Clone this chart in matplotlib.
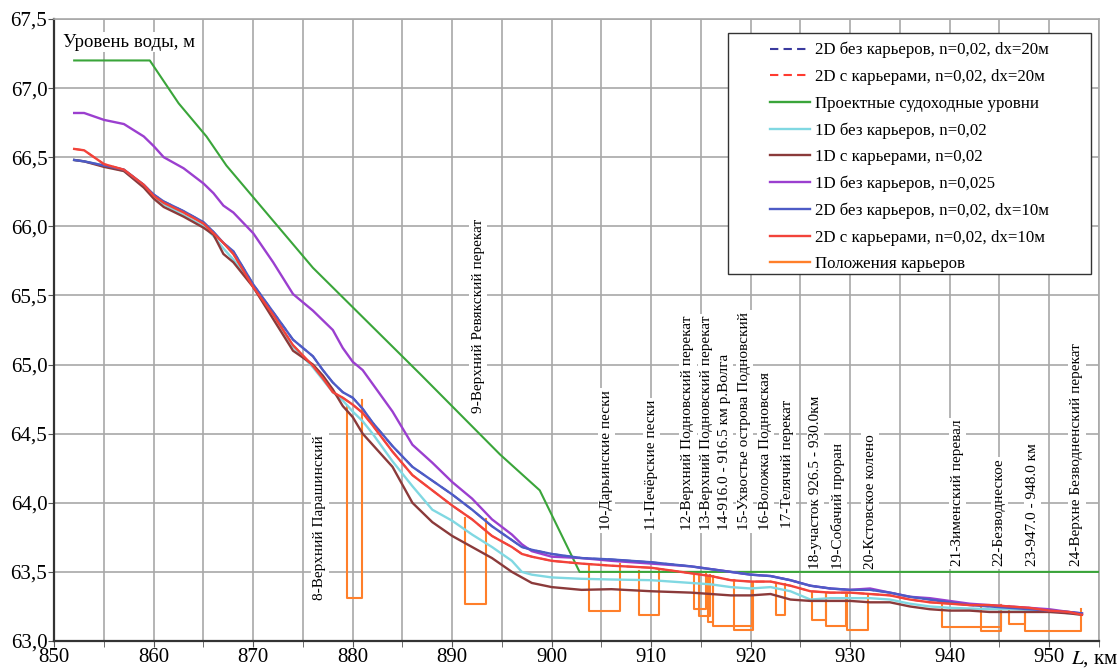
import matplotlib
matplotlib.use("Agg")
import matplotlib.pyplot as plt
from matplotlib.lines import Line2D
from matplotlib.patches import Rectangle

plt.rcParams["font.family"] = ["Liberation Serif", "DejaVu Serif"]
plt.rcParams["mathtext.fontset"] = "stix"

# километры для расчётных кривых
km = [852, 853, 855, 857, 859, 860, 861, 863, 865, 866, 867, 868, 870, 872, 874, 876,
      877, 878, 879, 880, 881, 882, 884, 886, 888, 890, 892, 894, 896, 897, 898, 900,
      903, 906, 910, 914, 916, 918, 920, 922, 924, 926, 928, 930, 932, 934, 936, 938,
      940, 942, 944, 946, 948, 950, 952, 953.3]

h_1d_025 = [66.82, 66.82, 66.77, 66.74, 66.65, 66.58, 66.50, 66.42, 66.31, 66.24, 66.15, 66.10,
            65.95, 65.74, 65.51, 65.39, 65.32, 65.25, 65.12, 65.02, 64.96, 64.86, 64.66, 64.42,
            64.29, 64.15, 64.03, 63.88, 63.77, 63.70, 63.65, 63.61, 63.60, 63.58, 63.56, 63.54,
            63.52, 63.50, 63.48, 63.47, 63.44, 63.40, 63.38, 63.37, 63.38, 63.35, 63.32, 63.31,
            63.29, 63.27, 63.26, 63.25, 63.24, 63.23, 63.21, 63.20]

h_2d_bez = [66.48, 66.47, 66.44, 66.41, 66.30, 66.23, 66.18, 66.11, 66.03, 65.96, 65.88, 65.82,
            65.58, 65.38, 65.18, 65.06, 64.96, 64.87, 64.80, 64.76, 64.68, 64.58, 64.41, 64.26,
            64.16, 64.06, 63.95, 63.83, 63.73, 63.68, 63.66, 63.63, 63.60, 63.59, 63.57, 63.54,
            63.52, 63.50, 63.48, 63.47, 63.44, 63.40, 63.38, 63.37, 63.37, 63.35, 63.32, 63.30,
            63.28, 63.26, 63.25, 63.24, 63.23, 63.22, 63.21, 63.20]

h_2d_s = [66.56, 66.55, 66.45, 66.41, 66.30, 66.22, 66.17, 66.10, 66.02, 65.95, 65.88, 65.80,
          65.56, 65.36, 65.14, 64.99, 64.90, 64.80, 64.76, 64.71, 64.65, 64.56, 64.37, 64.20,
          64.09, 63.98, 63.88, 63.76, 63.68, 63.63, 63.61, 63.58, 63.56, 63.545, 63.53, 63.49,
          63.47, 63.44, 63.43, 63.43, 63.40, 63.36, 63.35, 63.35, 63.34, 63.33, 63.30, 63.28,
          63.27, 63.26, 63.26, 63.25, 63.24, 63.22, 63.21, 63.19]

h_1d_bez = [66.48, 66.47, 66.44, 66.40, 66.29, 66.22, 66.16, 66.08, 66.00, 65.93, 65.84, 65.76,
            65.57, 65.36, 65.13, 64.98, 64.89, 64.80, 64.74, 64.66, 64.59, 64.50, 64.30, 64.12,
            63.95, 63.87, 63.77, 63.68, 63.58, 63.50, 63.48, 63.46, 63.45, 63.445, 63.44, 63.42,
            63.41, 63.39, 63.38, 63.39, 63.36, 63.30, 63.31, 63.31, 63.31, 63.30, 63.27, 63.25,
            63.24, 63.235, 63.23, 63.23, 63.225, 63.22, 63.20, 63.19]

h_1d_s = [66.48, 66.47, 66.43, 66.40, 66.28, 66.20, 66.14, 66.07, 65.99, 65.94, 65.80, 65.74,
          65.56, 65.33, 65.10, 65.00, 64.92, 64.82, 64.70, 64.62, 64.50, 64.42, 64.26, 64.00,
          63.86, 63.76, 63.68, 63.60, 63.50, 63.46, 63.42, 63.39, 63.37, 63.375, 63.36, 63.35,
          63.34, 63.33, 63.33, 63.34, 63.30, 63.29, 63.29, 63.29, 63.28, 63.28, 63.25, 63.23,
          63.22, 63.22, 63.21, 63.21, 63.21, 63.21, 63.20, 63.19]

# проектные судоходные уровни
km_proj = [852, 859.6, 862.5, 865.3, 867.3, 876.0, 886.8, 894.8, 898.8, 902.8, 955]
h_proj = [67.2, 67.2, 66.89, 66.65, 66.44, 65.70, 64.93, 64.35, 64.09, 63.5, 63.5]

# карьеры: начало, конец, верх слева, верх справа, дно
q_start = [879.4, 891.3, 903.8, 908.8, 914.3, 914.8, 915.7, 916.2, 918.3, 922.5, 926.2, 927.6,
           929.7, 939.2, 943.2, 946.0, 947.6]
q_end = [880.9, 893.4, 906.9, 910.8, 915.5, 915.9, 916.2, 920.1, 920.25, 923.5, 927.6, 929.6,
         931.8, 945.2, 945.2, 947.6, 953.2]
q_top_l = [64.70, 63.89, 63.55, 63.51, 63.49, 63.48, 63.47, 63.46, 63.44, 63.42, 63.35, 63.35,
           63.35, 63.27, 63.25, 63.25, 63.24]
q_top_r = [64.74, 63.88, 63.56, 63.51, 63.49, 63.48, 63.47, 63.43, 63.43, 63.41, 63.34, 63.35,
           63.34, 63.26, 63.26, 63.24, 63.23]
q_bottom = [63.31, 63.27, 63.22, 63.19, 63.23, 63.18, 63.14, 63.11, 63.08, 63.19, 63.15, 63.11,
            63.08, 63.10, 63.07, 63.12, 63.07]

# подписи перекатов
lab_text = ["8-Верхний Парашинский", "9-Верхний Ревякский перекат", "10-Дарьинские пески",
            "11-Печёрские пески", "12-Верхний Подновский перекат", "13-Верхний Подновский перекат",
            "14-916.0 - 916.5 км р.Волга", "15-Ухвостье острова Подновский",
            "16-Воложка Подновская", "17-Телячий перекат", "18-участок 926.5 - 930.0км",
            "19-Собачий проран", "20-Кстовское колено", "21-Зименский перевал",
            "22-Безводнеское", "23-947.0 - 948.0 км", "24-Верхне Безводненский перекат"]
lab_km = [876.7, 892.6, 905.5, 910.0, 913.7, 915.6, 917.4, 919.4, 921.5, 923.7, 926.5, 928.8,
          932.0, 940.8, 945.0, 948.3, 952.8]
lab_h = [63.30, 64.65, 63.80, 63.80, 63.80, 63.80, 63.80, 63.80, 63.80, 63.82, 63.52, 63.52,
         63.52, 63.54, 63.54, 63.54, 63.54]

fig = plt.figure(figsize=(11.19, 6.71), dpi=100)
ax = fig.add_axes([0.0485, 0.0447, 0.9335, 0.927])

c_blue_d = "#3a3a9e"
c_red_d = "#ff3b30"
c_green = "#3aa53a"
c_cyan = "#80d8e2"
c_brown = "#8b3a3a"
c_purple = "#9b3fcf"
c_blue = "#4d5bc6"
c_red = "#f2433a"
c_orange = "#ff7f2a"

ax.plot(km, h_2d_bez, color=c_blue_d, lw=1.3, ls=(0, (5, 3)), zorder=2)
ax.plot(km, h_2d_s, color=c_red_d, lw=1.3, ls=(0, (5, 3)), zorder=2)
ax.plot(km_proj, h_proj, color=c_green, lw=1.5, zorder=3)
ax.plot(km, h_1d_bez, color=c_cyan, lw=1.7, zorder=3)
ax.plot(km, h_1d_s, color=c_brown, lw=1.7, zorder=3)
ax.plot(km, h_1d_025, color=c_purple, lw=1.7, zorder=3)
ax.plot(km, h_2d_bez, color=c_blue, lw=1.7, zorder=3)
ax.plot(km, h_2d_s, color=c_red, lw=1.7, zorder=3)

for x0, x1, t0, t1, b in zip(q_start, q_end, q_top_l, q_top_r, q_bottom):
    ax.plot([x0, x0, x1, x1], [t0, b, b, t1], color=c_orange, lw=1.5, zorder=2.5)

for t, x, y in zip(lab_text, lab_km, lab_h):
    ax.text(x, y, t, rotation=90, ha="center", va="bottom", fontsize=11, zorder=1.5,
            bbox=dict(facecolor="white", edgecolor="none", pad=1.5))

ax.set_xlim(850, 955)
ax.set_ylim(63.0, 67.5)
ax.set_xticks(range(850, 951, 10))
ax.set_xticks(range(855, 956, 10), minor=True)
ax.set_yticks([63.0, 63.5, 64.0, 64.5, 65.0, 65.5, 66.0, 66.5, 67.0, 67.5])
ax.set_yticklabels([f"{v:.1f}".replace(".", ",") for v in ax.get_yticks()])
ax.tick_params(axis="both", which="both", labelsize=15, length=4, color="#555555", pad=1)
ax.tick_params(axis="x", which="minor", length=4)
ax.grid(True, which="both", color="#a8a8a8", lw=1.2)
ax.set_axisbelow(True)
for s in ["left", "bottom"]:
    ax.spines[s].set_color("#333333")
    ax.spines[s].set_linewidth(1.6)
for s in ["top", "right"]:
    ax.spines[s].set_color("#a8a8a8")
    ax.spines[s].set_linewidth(1.2)

ax.text(0.008, 0.963, "Уровень воды, м", transform=ax.transAxes, fontsize=13.5,
        ha="left", va="center", bbox=dict(facecolor="white", edgecolor="none", pad=1))
fig.text(0.999, 0.003, "$L$, км", fontsize=15, ha="right", va="bottom")

# рамка легенды шире, чем сама легенда
W, H = 1119, 671
box = Rectangle((728 / W, 1 - 274 / H), (1091 - 728) / W, (274 - 33) / H,
                transform=fig.transFigure, facecolor="white", edgecolor="#333333",
                lw=1.0, zorder=4.9, clip_on=False)
ax.add_artist(box)

handles = [
    Line2D([], [], color=c_blue_d, lw=1.5, ls=(0, (4, 2.5))),
    Line2D([], [], color=c_red_d, lw=1.5, ls=(0, (4, 2.5))),
    Line2D([], [], color=c_green, lw=1.7),
    Line2D([], [], color=c_cyan, lw=1.7),
    Line2D([], [], color=c_brown, lw=1.7),
    Line2D([], [], color=c_purple, lw=1.7),
    Line2D([], [], color=c_blue, lw=1.7),
    Line2D([], [], color=c_red, lw=1.7),
    Line2D([], [], color=c_orange, lw=1.7),
]
labels = ["2D без карьеров, n=0,02, dx=20м", "2D с карьерами, n=0,02, dx=20м",
          "Проектные судоходные уровни", "1D без карьеров, n=0,02", "1D с карьерами, n=0,02",
          "1D без карьеров, n=0,025", "2D без карьеров, n=0,02, dx=10м",
          "2D с карьерами, n=0,02, dx=10м", "Положения карьеров"]
leg = ax.legend(handles, labels, loc="upper left", bbox_to_anchor=(770 / W, 1 - 42 / H),
                bbox_transform=fig.transFigure, borderaxespad=0, fontsize=12.2,
                handlelength=2.35, handletextpad=0.3, labelspacing=0.62, borderpad=0,
                frameon=False)
leg.set_zorder(5)

fig.savefig("out.png", dpi=100)
